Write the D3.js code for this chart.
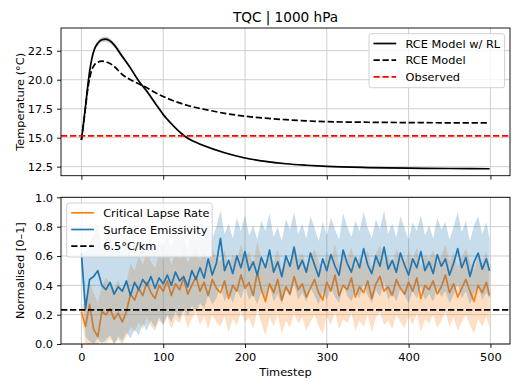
<!DOCTYPE html>
<html>
<head>
<meta charset="utf-8">
<script src="https://cdn.jsdelivr.net/npm/d3@7"></script>
<style>
  body { margin: 0; background: #fff; }
  text { font-family: "DejaVu Sans", sans-serif; fill: #000; }
</style>
</head>
<body>
<div id="chart"></div>
<script>
// top panel: temperature at 1000 hPa, sampled at these timesteps
var tempSteps = [0,2,5,8,10,13,16,20,25,30,35,40,50,60,70,80,90,100,110,120,130,140,150,175,200,225,250,275,300,350,400,450,499];
var rceRL = [14.8,15.9,17.7,19.6,20.7,21.9,22.65,23.15,23.45,23.5,23.35,23.0,22.0,21.0,19.9,19.0,18.0,17.0,16.2,15.5,14.95,14.6,14.3,13.7,13.25,12.95,12.75,12.62,12.52,12.42,12.37,12.34,12.32];
var rceRLSpread = [0.05,0.1,0.15,0.18,0.2,0.22,0.22,0.22,0.22,0.22,0.2,0.2,0.18,0.16,0.15,0.14,0.13,0.12,0.11,0.1,0.09,0.08,0.08,0.07,0.06,0.06,0.05,0.05,0.05,0.05,0.05,0.05,0.05];
var rce = [14.8,15.9,17.6,19.3,20.1,20.9,21.3,21.5,21.6,21.55,21.4,21.15,20.45,20.0,19.65,19.3,18.9,18.55,18.25,18.0,17.78,17.6,17.45,17.1,16.85,16.68,16.55,16.45,16.38,16.33,16.3,16.28,16.27];
var observed = 15.15;
var tempTicks = [12.5, 15.0, 17.5, 20.0, 22.5];

// bottom panel: normalised parameters, every 5 timesteps (+ last step)
var steps = d3.range(0, 500, 5).concat([499]);
var lapseMean = [
  0.22,0.12,0.27,0.10,0.05,0.22,0.20,0.24,0.17,0.21,
  0.15,0.22,0.34,0.30,0.38,0.33,0.42,0.35,0.31,0.40,
  0.36,0.43,0.33,0.41,0.37,0.45,0.34,0.40,0.46,0.36,
  0.42,0.33,0.44,0.38,0.35,0.43,0.31,0.40,0.36,0.47,
  0.38,0.42,0.33,0.49,0.37,0.29,0.41,0.35,0.44,0.30,
  0.39,0.34,0.46,0.37,0.41,0.32,0.38,0.44,0.35,0.30,
  0.42,0.36,0.47,0.33,0.40,0.37,0.45,0.32,0.39,0.35,
  0.43,0.31,0.41,0.46,0.36,0.39,0.33,0.44,0.38,0.34,
  0.42,0.36,0.45,0.31,0.40,0.37,0.43,0.34,0.39,0.47,
  0.35,0.41,0.32,0.38,0.44,0.36,0.29,0.40,0.35,0.42,
  0.33];
var lapseLo = [
  0.20,0.00,0.00,0.00,0.00,0.02,0.00,0.04,0.00,0.03,
  0.00,0.05,0.12,0.08,0.15,0.10,0.18,0.12,0.09,0.16,
  0.13,0.19,0.10,0.17,0.14,0.21,0.11,0.17,0.22,0.13,
  0.19,0.10,0.20,0.15,0.12,0.19,0.08,0.17,0.13,0.22,
  0.15,0.18,0.10,0.23,0.14,0.06,0.18,0.12,0.20,0.07,
  0.16,0.11,0.21,0.14,0.18,0.09,0.15,0.20,0.12,0.07,
  0.19,0.13,0.22,0.10,0.17,0.14,0.21,0.09,0.16,0.12,
  0.20,0.08,0.18,0.22,0.13,0.16,0.10,0.20,0.15,0.11,
  0.19,0.13,0.21,0.08,0.17,0.14,0.20,0.11,0.16,0.22,
  0.12,0.18,0.09,0.15,0.20,0.13,0.07,0.17,0.12,0.19,
  0.10];
var lapseHi = [
  0.24,0.30,0.42,0.35,0.28,0.40,0.45,0.42,0.38,0.44,
  0.36,0.42,0.55,0.50,0.60,0.54,0.63,0.56,0.52,0.61,
  0.57,0.64,0.54,0.62,0.58,0.66,0.55,0.61,0.67,0.57,
  0.63,0.54,0.65,0.59,0.56,0.64,0.52,0.61,0.57,0.68,
  0.59,0.63,0.54,0.70,0.58,0.50,0.62,0.56,0.65,0.51,
  0.60,0.55,0.67,0.58,0.62,0.53,0.59,0.65,0.56,0.51,
  0.63,0.57,0.68,0.54,0.61,0.58,0.66,0.53,0.60,0.56,
  0.64,0.52,0.62,0.67,0.57,0.60,0.54,0.65,0.59,0.55,
  0.63,0.57,0.66,0.52,0.61,0.58,0.64,0.55,0.60,0.68,
  0.56,0.62,0.53,0.59,0.65,0.57,0.50,0.61,0.56,0.63,
  0.54];
var emisMean = [
  0.62,0.24,0.44,0.46,0.50,0.40,0.37,0.42,0.34,0.39,
  0.36,0.43,0.33,0.42,0.37,0.44,0.40,0.46,0.38,0.45,
  0.41,0.47,0.40,0.49,0.43,0.46,0.39,0.50,0.44,0.52,
  0.45,0.58,0.47,0.55,0.72,0.50,0.57,0.48,0.60,0.52,
  0.63,0.50,0.56,0.47,0.59,0.52,0.64,0.49,0.56,0.46,
  0.60,0.53,0.66,0.51,0.57,0.49,0.62,0.54,0.46,0.58,
  0.50,0.61,0.53,0.47,0.64,0.55,0.49,0.59,0.52,0.65,
  0.54,0.48,0.60,0.53,0.66,0.51,0.57,0.49,0.62,0.54,
  0.47,0.58,0.52,0.63,0.50,0.56,0.48,0.61,0.53,0.58,
  0.47,0.55,0.65,0.52,0.59,0.46,0.56,0.62,0.51,0.58,
  0.50];
var emisLo = [
  0.50,0.05,0.02,0.00,0.04,0.00,0.03,0.06,0.00,0.05,
  0.02,0.08,0.04,0.10,0.06,0.14,0.09,0.16,0.11,0.18,
  0.13,0.20,0.15,0.22,0.17,0.24,0.19,0.26,0.22,0.28,
  0.24,0.33,0.27,0.31,0.40,0.29,0.35,0.28,0.37,0.31,
  0.39,0.30,0.34,0.27,0.36,0.31,0.40,0.29,0.34,0.27,
  0.37,0.32,0.41,0.30,0.35,0.29,0.38,0.33,0.27,0.36,
  0.30,0.38,0.32,0.28,0.40,0.33,0.29,0.36,0.31,0.41,
  0.33,0.28,0.37,0.32,0.42,0.30,0.35,0.29,0.38,0.33,
  0.28,0.36,0.31,0.39,0.30,0.34,0.29,0.38,0.32,0.36,
  0.28,0.33,0.41,0.31,0.36,0.27,0.34,0.39,0.30,0.35,
  0.31];
var emisHi = [
  0.66,0.62,0.70,0.74,0.82,0.66,0.72,0.78,0.64,0.70,
  0.66,0.74,0.60,0.68,0.63,0.70,0.66,0.72,0.64,0.71,
  0.67,0.74,0.66,0.76,0.70,0.73,0.65,0.77,0.71,0.79,
  0.70,0.84,0.72,0.80,0.91,0.75,0.82,0.72,0.86,0.77,
  0.88,0.74,0.81,0.71,0.84,0.77,0.89,0.73,0.80,0.70,
  0.85,0.78,0.90,0.75,0.82,0.72,0.87,0.79,0.70,0.83,
  0.74,0.86,0.78,0.71,0.89,0.80,0.73,0.84,0.77,0.90,
  0.79,0.72,0.85,0.78,0.91,0.75,0.82,0.73,0.87,0.79,
  0.71,0.83,0.77,0.88,0.74,0.81,0.72,0.86,0.78,0.83,
  0.71,0.80,0.90,0.76,0.84,0.70,0.81,0.87,0.75,0.83,
  0.72];
var lapse65 = 0.232;
var normTicks = [0.0, 0.2, 0.4, 0.6, 0.8, 1.0];
var stepTicks = [0, 100, 200, 300, 400, 500];

var W = 523, H = 392;
var left = 61, right = 510;
var top1 = 28, bot1 = 175.7, top2 = 197.3, bot2 = 344;
var fs = 11.35;
var gridCol = "#cfcfcf";
var orange = "#ff7f0e", blue = "#1f77b4";

var svg = d3.select("#chart").append("svg")
  .attr("width", W).attr("height", H);

var x = d3.scaleLinear().domain([-24.95, 523.95]).range([left, right]);
var yT = d3.scaleLinear().domain([11.72, 24.46]).range([bot1, top1]);
var yN = d3.scaleLinear().domain([0, 1]).range([bot2, top2]);

svg.append("clipPath").attr("id", "c1").append("rect")
  .attr("x", left).attr("y", top1).attr("width", right - left).attr("height", bot1 - top1);
svg.append("clipPath").attr("id", "c2").append("rect")
  .attr("x", left).attr("y", top2).attr("width", right - left).attr("height", bot2 - top2);

// grid lines behind the data
function grid(y, ticks, yTop, yBot) {
  var g = svg.append("g");
  g.selectAll(".gx").data(stepTicks).enter().append("line")
    .attr("x1", function(d) { return x(d); }).attr("x2", function(d) { return x(d); })
    .attr("y1", yTop).attr("y2", yBot)
    .attr("stroke", gridCol).attr("stroke-width", 1);
  g.selectAll(".gy").data(ticks).enter().append("line")
    .attr("x1", left).attr("x2", right)
    .attr("y1", function(d) { return y(d); }).attr("y2", function(d) { return y(d); })
    .attr("stroke", gridCol).attr("stroke-width", 1);
}

function axes(y, ticks, yTop, yBot, showX) {
  var ax = svg.append("g")
    .attr("transform", "translate(0," + yBot + ")")
    .call(d3.axisBottom(x).tickValues(stepTicks).tickSize(4).tickPadding(4)
      .tickFormat(showX ? d3.format("d") : function() { return ""; }));
  var ay = svg.append("g")
    .attr("transform", "translate(" + left + ",0)")
    .call(d3.axisLeft(y).tickValues(ticks).tickSize(4).tickPadding(4).tickFormat(d3.format(".1f")));
  [ax, ay].forEach(function(a) {
    a.select(".domain").remove();
    a.selectAll("line").attr("stroke", "#000").attr("stroke-width", 0.9);
    a.selectAll("text").style("font-size", fs + "px").style("font-family", "DejaVu Sans");
  });
  ay.selectAll("text").attr("dy", "0.35em");
  ax.selectAll("text").attr("dy", "0.75em");
  svg.append("rect")
    .attr("x", left).attr("y", yTop).attr("width", right - left).attr("height", yBot - yTop)
    .attr("fill", "none").attr("stroke", "#000").attr("stroke-width", 0.9);
}

// ---- top panel
grid(yT, tempTicks, top1, bot1);
var p1 = svg.append("g").attr("clip-path", "url(#c1)");

var topIdx = d3.range(tempSteps.length);
p1.append("path")
  .datum(topIdx)
  .attr("d", d3.area().curve(d3.curveMonotoneX)
    .x(function(i) { return x(tempSteps[i]); })
    .y0(function(i) { return yT(rceRL[i] - rceRLSpread[i]); })
    .y1(function(i) { return yT(rceRL[i] + rceRLSpread[i]); }))
  .attr("fill", "#000").attr("fill-opacity", 0.2);

p1.append("path")
  .datum(topIdx)
  .attr("d", d3.line().curve(d3.curveMonotoneX)
    .x(function(i) { return x(tempSteps[i]); })
    .y(function(i) { return yT(rce[i]); }))
  .attr("fill", "none").attr("stroke", "#000").attr("stroke-width", 1.7)
  .attr("stroke-dasharray", "6.3,2.7");

p1.append("path")
  .datum(topIdx)
  .attr("d", d3.line().curve(d3.curveMonotoneX)
    .x(function(i) { return x(tempSteps[i]); })
    .y(function(i) { return yT(rceRL[i]); }))
  .attr("fill", "none").attr("stroke", "#000").attr("stroke-width", 1.7);

p1.append("line")
  .attr("x1", left).attr("x2", right)
  .attr("y1", yT(observed)).attr("y2", yT(observed))
  .attr("stroke", "#ff0000").attr("stroke-width", 1.7).attr("stroke-dasharray", "6.3,2.7");

axes(yT, tempTicks, top1, bot1, false);

// ---- bottom panel
grid(yN, normTicks, top2, bot2);
var p2 = svg.append("g").attr("clip-path", "url(#c2)");
var idx = d3.range(steps.length);

function band(lo, hi, col) {
  p2.append("path").datum(idx)
    .attr("d", d3.area()
      .x(function(i) { return x(steps[i]); })
      .y0(function(i) { return yN(lo[i]); })
      .y1(function(i) { return yN(hi[i]); }))
    .attr("fill", col).attr("fill-opacity", 0.25);
}
function line(vals, col) {
  p2.append("path").datum(idx)
    .attr("d", d3.line()
      .x(function(i) { return x(steps[i]); })
      .y(function(i) { return yN(vals[i]); }))
    .attr("fill", "none").attr("stroke", col).attr("stroke-width", 1.7)
    .attr("stroke-linejoin", "round");
}
band(lapseLo, lapseHi, orange);
line(lapseMean, orange);
band(emisLo, emisHi, blue);
line(emisMean, blue);

p2.append("line")
  .attr("x1", left).attr("x2", right)
  .attr("y1", yN(lapse65)).attr("y2", yN(lapse65))
  .attr("stroke", "#000").attr("stroke-width", 1.7).attr("stroke-dasharray", "6.3,2.7");

axes(yN, normTicks, top2, bot2, true);

// ---- labels
svg.append("text")
  .attr("x", (left + right) / 2).attr("y", 21.5)
  .attr("text-anchor", "middle").style("font-size", "13.6px")
  .text("TQC | 1000 hPa");

svg.append("text")
  .attr("transform", "translate(23.5," + ((top1 + bot1) / 2) + ") rotate(-90)")
  .attr("text-anchor", "middle").style("font-size", fs + "px")
  .text("Temperature (°C)");

svg.append("text")
  .attr("transform", "translate(23.5," + ((top2 + bot2) / 2) + ") rotate(-90)")
  .attr("text-anchor", "middle").style("font-size", fs + "px")
  .text("Normalised [0–1]");

svg.append("text")
  .attr("x", (left + right) / 2).attr("y", 375.5)
  .attr("text-anchor", "middle").style("font-size", fs + "px")
  .text("Timestep");

// ---- legends
function legend(x0, y0, w, items) {
  var g = svg.append("g");
  g.append("rect")
    .attr("x", x0).attr("y", y0).attr("width", w).attr("height", 54)
    .attr("rx", 2.5)
    .attr("fill", "#fff").attr("fill-opacity", 0.8)
    .attr("stroke", "#cccccc").attr("stroke-width", 0.9);
  items.forEach(function(it, i) {
    var yy = y0 + 9.8 + i * 16.7;
    g.append("line")
      .attr("x1", x0 + 4.5).attr("x2", x0 + 27.2)
      .attr("y1", yy).attr("y2", yy)
      .attr("stroke", it.color).attr("stroke-width", 1.7)
      .attr("stroke-dasharray", it.dash ? "6.3,2.7" : null);
    g.append("text")
      .attr("x", x0 + 36.5).attr("y", yy).attr("dy", "0.36em")
      .style("font-size", fs + "px")
      .text(it.label);
  });
}
legend(369, 33.7, 135.6, [
  {label: "RCE Model w/ RL", color: "#000"},
  {label: "RCE Model", color: "#000", dash: true},
  {label: "Observed", color: "#ff0000", dash: true}
]);
legend(66.7, 203, 145.5, [
  {label: "Critical Lapse Rate", color: orange},
  {label: "Surface Emissivity", color: blue},
  {label: "6.5°C/km", color: "#000", dash: true}
]);
</script>
</body>
</html>
